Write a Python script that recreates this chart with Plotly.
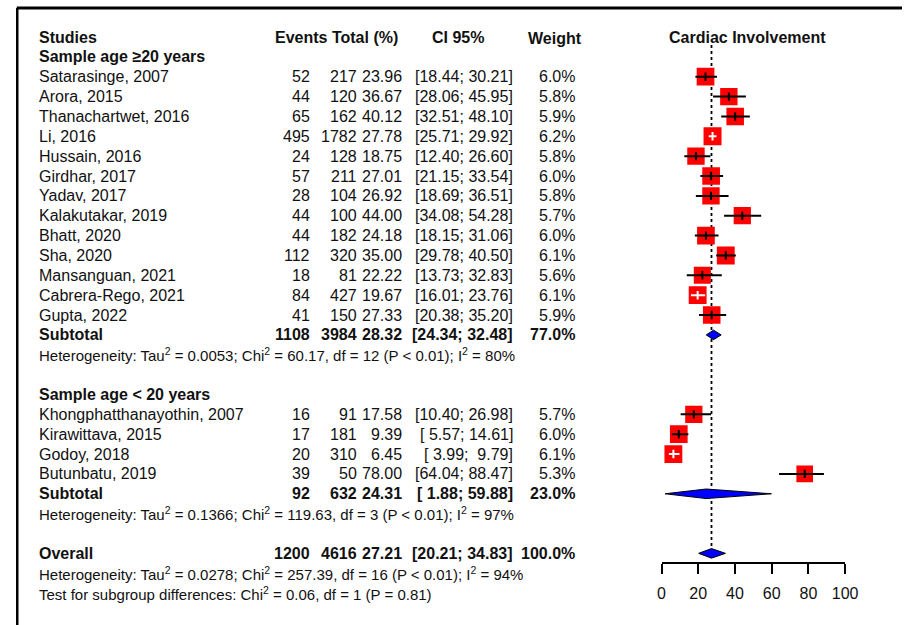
import math
import plotly.graph_objects as go

# ---------------- data ----------------
group_labels = ["Sample age \u226520 years", "Sample age < 20 years"]

studies_1 = ["Satarasinge, 2007", "Arora, 2015", "Thanachartwet, 2016", "Li, 2016",
             "Hussain, 2016", "Girdhar, 2017", "Yadav, 2017", "Kalakutakar, 2019",
             "Bhatt, 2020", "Sha, 2020", "Mansanguan, 2021", "Cabrera-Rego, 2021",
             "Gupta, 2022"]
events_1 = [52, 44, 65, 495, 24, 57, 28, 44, 44, 112, 18, 84, 41]
total_1 = [217, 120, 162, 1782, 128, 211, 104, 100, 182, 320, 81, 427, 150]
prop_1 = [23.96, 36.67, 40.12, 27.78, 18.75, 27.01, 26.92, 44.00, 24.18, 35.00, 22.22, 19.67, 27.33]
lower_1 = [18.44, 28.06, 32.51, 25.71, 12.40, 21.15, 18.69, 34.08, 18.15, 29.78, 13.73, 16.01, 20.38]
upper_1 = [30.21, 45.95, 48.10, 29.92, 26.60, 33.54, 36.51, 54.28, 31.06, 40.50, 32.83, 23.76, 35.20]
weight_1 = [6.0, 5.8, 5.9, 6.2, 5.8, 6.0, 5.8, 5.7, 6.0, 6.1, 5.6, 6.1, 5.9]

studies_2 = ["Khongphatthanayothin, 2007", "Kirawittava, 2015", "Godoy, 2018", "Butunbatu, 2019"]
events_2 = [16, 17, 20, 39]
total_2 = [91, 181, 310, 50]
prop_2 = [17.58, 9.39, 6.45, 78.00]
lower_2 = [10.40, 5.57, 3.99, 64.04]
upper_2 = [26.98, 14.61, 9.79, 88.47]
weight_2 = [5.7, 6.0, 6.1, 5.3]

pooled_labels = ["Subtotal", "Subtotal", "Overall"]
pooled_events = [1108, 92, 1200]
pooled_total = [3984, 632, 4616]
pooled_prop = [28.32, 24.31, 27.21]
pooled_lower = [24.34, 1.88, 20.21]
pooled_upper = [32.48, 59.88, 34.83]
pooled_weight = [77.0, 23.0, 100.0]

het_texts = [
    "Heterogeneity: Tau<sup>2</sup> = 0.0053; Chi<sup>2</sup> = 60.17, df = 12 (P &lt; 0.01); I<sup>2</sup> = 80%",
    "Heterogeneity: Tau<sup>2</sup> = 0.1366; Chi<sup>2</sup> = 119.63, df = 3 (P &lt; 0.01); I<sup>2</sup> = 97%",
    "Heterogeneity: Tau<sup>2</sup> = 0.0278; Chi<sup>2</sup> = 257.39, df = 16 (P &lt; 0.01); I<sup>2</sup> = 94%",
]
test_text = "Test for subgroup differences: Chi<sup>2</sup> = 0.06, df = 1 (P = 0.81)"

col_headers = ["Studies", "Events Total (%)", "CI 95%", "Weight"]
plot_title = "Cardiac Involvement"
axis_ticks = [0, 20, 40, 60, 80, 100]

# ---------------- layout helpers ----------------
W, H = 915, 625
ROW0_PX, ROW_PX = 37.0, 19.86          # first row centre, row pitch (pixels)
FONT = "Arial, Liberation Sans, sans-serif"
TXT = "#111111"

# row indices
hdr_row = 0
g1_row = 1
rows_1 = list(range(g1_row + 1, g1_row + 1 + len(studies_1)))
sub1_row = rows_1[-1] + 1
het1_row = sub1_row + 1
g2_row = het1_row + 2
rows_2 = list(range(g2_row + 1, g2_row + 1 + len(studies_2)))
sub2_row = rows_2[-1] + 1
het2_row = sub2_row + 1
ov_row = het2_row + 2
het3_row = ov_row + 1
test_row = het3_row + 1
pooled_rows = [sub1_row, sub2_row, ov_row]

def px(x):
    return x / W

X_NAME = px(36)
X_EVENTS = px(312)
X_TOTAL = px(360)
X_PROP = px(406)
X_CI = px(519)
X_WEIGHT = px(582)

annotations = []

def add_text(x, row, text, anchor="left", size=16, bold=False):
    annotations.append(dict(
        x=x, y=row, xref="paper", yref="y", text=(f"<b>{text}</b>" if bold else text),
        showarrow=False, xanchor=anchor, yanchor="middle",
        font=dict(family=FONT, size=size, color=TXT), borderpad=0, borderwidth=0))

NB = "\u00a0"

def fmt_ci(lo, up):
    return f"[{lo:5.2f}; {up:5.2f}]".replace(" ", NB).replace(";" + NB, "; ")

def add_row(row, name, ev, tot, p, lo, up, w, bold=False):
    add_text(X_NAME, row, name, "left", bold=bold)
    add_text(X_EVENTS, row, str(ev), "right", bold=bold)
    add_text(X_TOTAL, row, str(tot), "right", bold=bold)
    add_text(X_PROP, row, f"{p:.2f}", "right", bold=bold)
    add_text(X_CI, row, fmt_ci(lo, up), "right", bold=bold)
    add_text(X_WEIGHT, row, f"{w:.1f}%", "right", bold=bold)

# headers
add_text(X_NAME, hdr_row, col_headers[0], "left", bold=True)
add_text(px(276), hdr_row, col_headers[1], "left", bold=True)
add_text(px(463), hdr_row, col_headers[2], "center", bold=True)
add_text(px(561), hdr_row + 0.1, col_headers[3], "center", bold=True)
add_text(px(758), hdr_row, plot_title, "center", bold=True)

add_text(X_NAME, g1_row, group_labels[0], "left", bold=True)
add_text(X_NAME, g2_row, group_labels[1], "left", bold=True)

for i, r in enumerate(rows_1):
    add_row(r, studies_1[i], events_1[i], total_1[i], prop_1[i], lower_1[i], upper_1[i], weight_1[i])
for i, r in enumerate(rows_2):
    add_row(r, studies_2[i], events_2[i], total_2[i], prop_2[i], lower_2[i], upper_2[i], weight_2[i])
for i, r in enumerate(pooled_rows):
    add_row(r, pooled_labels[i], pooled_events[i], pooled_total[i], pooled_prop[i],
            pooled_lower[i], pooled_upper[i], pooled_weight[i], bold=True)

HET_SIZE = 15
add_text(X_NAME, het1_row, het_texts[0], "left", size=HET_SIZE)
add_text(X_NAME, het2_row, het_texts[1], "left", size=HET_SIZE)
add_text(X_NAME, het3_row, het_texts[2], "left", size=HET_SIZE)
add_text(X_NAME, test_row, test_text, "left", size=HET_SIZE)

# ---------------- forest marks ----------------
all_rows = rows_1 + rows_2
all_prop = prop_1 + prop_2
all_lo = lower_1 + lower_2
all_up = upper_1 + upper_2
all_w = weight_1 + weight_2

MAX_SQ = 18.0
sizes = [MAX_SQ * math.sqrt(w / max(all_w)) for w in all_w]
PX_PER_UNIT = (857 - 670) / 100.0

fig = go.Figure()

# reference (overall estimate) dotted line
fig.add_trace(go.Scatter(
    x=[pooled_prop[2], pooled_prop[2]], y=[hdr_row + 0.4, ov_row + 0.3],
    mode="lines", line=dict(color="black", width=1.8, dash="dot"),
    hoverinfo="skip", showlegend=False))

# squares
fig.add_trace(go.Scatter(
    x=all_prop, y=all_rows, mode="markers", opacity=1,
    marker=dict(symbol="square", size=sizes, color="#ff0000", opacity=1, line=dict(width=0)),
    hoverinfo="skip", showlegend=False))

# CI lines: white when fully inside the square, else black
bx, by, wx, wy = [], [], [], []
btx, bty, wtx, wty = [], [], [], []
for r, p, lo, up, s in zip(all_rows, all_prop, all_lo, all_up, sizes):
    half = s / 2.0 / PX_PER_UNIT
    inside = (p - lo) < half and (up - p) < half
    if inside:
        wx += [lo, up, None]; wy += [r, r, None]; wtx.append(p); wty.append(r)
    else:
        bx += [lo, up, None]; by += [r, r, None]; btx.append(p); bty.append(r)

fig.add_trace(go.Scatter(x=bx, y=by, mode="lines", line=dict(color="black", width=2),
                         hoverinfo="skip", showlegend=False))
fig.add_trace(go.Scatter(x=wx, y=wy, mode="lines", line=dict(color="white", width=2),
                         hoverinfo="skip", showlegend=False))
fig.add_trace(go.Scatter(x=btx, y=bty, mode="markers",
                         marker=dict(symbol="line-ns", size=6, opacity=1,
                                     line=dict(color="black", width=2)),
                         hoverinfo="skip", showlegend=False))
fig.add_trace(go.Scatter(x=wtx, y=wty, mode="markers",
                         marker=dict(symbol="line-ns", size=6, opacity=1,
                                     line=dict(color="white", width=2)),
                         hoverinfo="skip", showlegend=False))

# diamonds
DH = 0.24
for r, p, lo, up in zip(pooled_rows, pooled_prop, pooled_lower, pooled_upper):
    fig.add_trace(go.Scatter(
        x=[lo, p, up, p, lo], y=[r, r - DH, r, r + DH, r], mode="lines",
        fill="toself", fillcolor="#0000ff", line=dict(color="black", width=1),
        hoverinfo="skip", showlegend=False))

# ---------------- axes / layout ----------------
y_top = -ROW0_PX / ROW_PX
y_bot = (H - ROW0_PX) / ROW_PX
axis_px = 563

fig.update_layout(
    width=W, height=H,
    margin=dict(l=0, r=0, t=0, b=0),
    paper_bgcolor="white", plot_bgcolor="white",
    annotations=annotations,
    xaxis=dict(domain=[670 / W, 857 / W], range=[0, 100], anchor="free",
               position=(H - axis_px) / H,
               tickvals=axis_ticks, ticks="outside", ticklen=10, tickwidth=1.5,
               tickcolor="black", showline=True, linecolor="black", linewidth=1.5,
               showgrid=False, zeroline=False, ticklabelstandoff=6,
               tickfont=dict(family=FONT, size=16, color=TXT), fixedrange=True),
    yaxis=dict(domain=[0, 1], range=[y_bot, y_top], visible=False, fixedrange=True),
    shapes=[
        dict(type="line", xref="paper", yref="paper", x0=px(13), x1=1.0,
             y0=1 - 8 / H, y1=1 - 8 / H, line=dict(color="black", width=3)),
        dict(type="line", xref="paper", yref="paper", x0=px(13.5), x1=px(13.5),
             y0=0, y1=1 - 8 / H, line=dict(color="black", width=2.5)),
    ],
)

fig.write_html("out.html", config={"displayModeBar": False},
               post_script="document.body.style.margin='0px';document.body.style.overflow='hidden';")
